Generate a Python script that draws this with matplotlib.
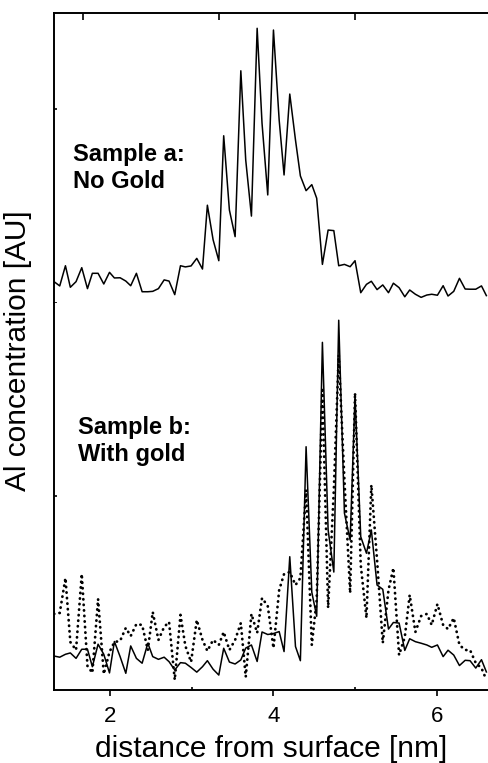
import numpy as np
import matplotlib.pyplot as plt

plt.rcParams['font.family'] = ['Liberation Sans', 'DejaVu Sans']

# odczyt z wykresu: odległość od powierzchni [nm]
distance = [1.31, 1.38, 1.45, 1.51, 1.58, 1.65, 1.72, 1.78, 1.85, 1.92,
            1.99, 2.05, 2.12, 2.19, 2.25, 2.32, 2.39, 2.46, 2.52, 2.59,
            2.66, 2.72, 2.79, 2.86, 2.92, 2.99, 3.06, 3.13, 3.19, 3.26,
            3.33, 3.39, 3.46, 3.53, 3.60, 3.66, 3.73, 3.80, 3.86, 3.93,
            4.00, 4.07, 4.13, 4.20, 4.27, 4.33, 4.40, 4.47, 4.53, 4.60,
            4.67, 4.74, 4.80, 4.87, 4.94, 5.00, 5.07, 5.14, 5.20, 5.27,
            5.34, 5.41, 5.47, 5.54, 5.61, 5.67, 5.74, 5.81, 5.88, 5.94,
            6.01, 6.08, 6.14, 6.21, 6.28, 6.35, 6.41, 6.48, 6.55, 6.61]

# (a) bez złota
al_no_gold = [1.10, 0.88, 1.92, 0.81, 1.10, 1.82, 0.74, 1.53, 1.53, 0.98,
              1.58, 1.29, 1.30, 1.13, 0.89, 1.53, 0.58, 0.58, 0.60, 0.74,
              1.19, 1.13, 0.43, 1.92, 1.86, 1.91, 2.30, 1.75, 5.04, 3.26,
              2.18, 8.62, 4.79, 3.42, 11.97, 7.37, 4.48, 14.16, 9.26, 5.57,
              14.07, 9.43, 6.60, 10.77, 8.40, 6.55, 5.79, 6.10, 5.40, 1.99,
              3.76, 3.73, 1.92, 1.99, 1.87, 2.18, 0.53, 0.96, 1.12, 0.69,
              0.93, 0.53, 1.02, 0.79, 0.32, 0.67, 0.45, 0.29, 0.41, 0.45,
              0.40, 0.89, 0.36, 0.60, 1.27, 0.72, 0.71, 0.71, 0.88, 0.38]

# (b) ze złotem - linia ciągła
al_gold_solid = [1.75, 1.69, 1.84, 1.91, 1.63, 2.10, 2.10, 1.20, 2.36, 1.84,
                 0.88, 2.50, 1.72, 0.86, 2.27, 1.63, 1.38, 2.41, 1.72, 1.58,
                 1.69, 1.46, 1.03, 1.41, 1.38, 1.16, 0.92, 1.20, 1.51, 1.07,
                 0.77, 2.15, 1.44, 1.34, 1.55, 2.16, 2.32, 1.47, 2.99, 2.86,
                 2.91, 3.01, 1.98, 6.87, 2.24, 1.51, 12.54, 5.04, 3.80, 17.92,
                 8.25, 6.08, 19.06, 9.12, 7.73, 15.15, 7.90, 7.05, 8.25, 5.41,
                 5.19, 3.14, 3.48, 3.45, 2.04, 2.64, 2.49, 2.41, 2.32, 2.20,
                 2.32, 1.72, 2.05, 1.80, 1.26, 1.53, 1.51, 1.13, 1.56, 0.93]

# (b) ze złotem - linia kropkowana
al_gold_dotted = [3.92, 3.97, 5.77, 2.47, 2.06, 5.98, 1.24, 0.88, 4.69, 0.82,
                  1.96, 2.47, 2.53, 3.20, 2.78, 3.40, 3.35, 2.06, 4.02, 2.58,
                  3.25, 3.51, 0.52, 3.87, 2.27, 1.44, 3.61, 2.58, 2.01, 2.58,
                  2.32, 2.99, 2.06, 2.58, 3.45, 0.67, 3.92, 2.94, 4.74, 4.33,
                  2.16, 5.15, 5.98, 6.08, 5.41, 5.77, 10.31, 2.32, 4.64, 15.46,
                  4.23, 10.31, 17.27, 10.82, 5.00, 15.31, 6.44, 3.71, 10.57, 6.70,
                  2.42, 5.15, 6.29, 1.80, 2.73, 4.90, 2.99, 3.81, 3.92, 3.35,
                  4.43, 3.35, 3.14, 3.71, 2.32, 2.06, 2.06, 1.39, 1.13, 0.52]

xticks = [2, 4, 6]
top_ticks = [5 / 3, 10 / 3, 5]

fig = plt.figure(figsize=(4.88, 7.63), dpi=100)
ax_a = fig.add_axes([0.1107, 0.6029, 0.8893, 0.3801])
ax_b = fig.add_axes([0.1107, 0.0957, 0.8893, 0.5072])

for ax in (ax_a, ax_b):
    ax.set_xlim(1.31, 6.63)
    ax.spines['right'].set_visible(False)
    for s in ax.spines.values():
        s.set_linewidth(1.4)
    ax.tick_params(axis='y', direction='in', length=2.5, width=1.2, labelleft=False)

# --- panel a ---
ax_a.plot(distance, al_no_gold, '-', color='black', linewidth=1.1)
ax_a.set_ylim(0, 14.95)
ax_a.spines['bottom'].set_visible(False)
ax_a.set_yticks([0, 10])
ax_a.xaxis.tick_top()
ax_a.set_xticks(top_ticks)
ax_a.tick_params(axis='x', direction='in', length=5, width=1.2, labeltop=False)
ax_a.text(1.543, 8.25, 'Sample a:\nNo Gold', fontsize=17, fontweight='bold',
          va='top', ha='left', linespacing=1.2)

# --- panel b ---
ax_b.plot(distance, al_gold_solid, '-', color='black', linewidth=1.1)
ax_b.plot(distance, al_gold_dotted, color='black', linewidth=2.0,
          linestyle=(0, (0.1, 1.9)), dash_capstyle='round')
ax_b.set_ylim(0, 19.95)
ax_b.spines['top'].set_visible(False)
ax_b.set_yticks([10])
ax_b.set_xticks(xticks)
ax_b.set_xticks([3, 5], minor=True)
ax_b.tick_params(axis='x', which='major', direction='out', length=4.5, width=1.2,
                 labelsize=16, pad=7)
ax_b.tick_params(axis='x', which='minor', direction='in', length=2, width=1.2)
ax_b.text(1.605, 14.1, 'Sample b:\nWith gold', fontsize=17, fontweight='bold',
          va='top', ha='left', linespacing=1.2)
ax_b.set_xlabel('distance from surface [nm]', fontsize=21.5, labelpad=6)

fig.text(0.037, 0.541, 'Al concentration [AU]', fontsize=21.5, rotation=90,
         ha='center', va='center')

plt.savefig('out.png', dpi=100)
